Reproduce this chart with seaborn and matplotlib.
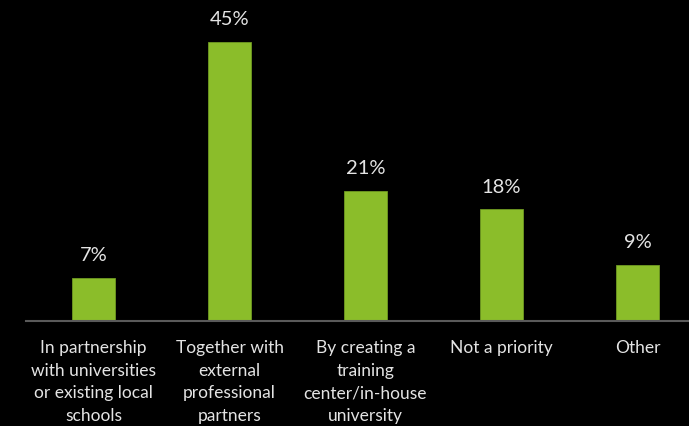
import matplotlib
matplotlib.use("Agg")
import matplotlib.pyplot as plt
import seaborn as sns
import pandas as pd

categories = [
    "In partnership\nwith universities\nor existing local\nschools",
    "Together with\nexternal\nprofessional\npartners",
    "By creating a\ntraining\ncenter/in-house\nuniversity",
    "Not a priority",
    "Other",
]
values = [7, 45, 21, 18, 9]
value_labels = ["7%", "45%", "21%", "18%", "9%"]

df = pd.DataFrame({"category": categories, "value": values})

sns.set_style("dark")
plt.rcParams["font.family"] = ["Lato", "DejaVu Sans"]

W, H = 689, 426
fig = plt.figure(figsize=(W / 100, H / 100), dpi=100, facecolor="black")
# axes spans from the baseline start to beyond the right edge
left_px, base_px, step_px = 25.5, 321, 136
ax = fig.add_axes([left_px / W, 1 - base_px / H, 5 * step_px / W, base_px / H])
ax.set_facecolor("black")

sns.barplot(data=df, x="category", y="value", color="#8bbd2a",
            width=43 / step_px, saturation=1, ax=ax,
            edgecolor="#6f9a22", linewidth=0.6)

ax.set_xlim(-0.5, 4.5)
ax.set_ylim(0, 45 * base_px / 279)

for i, (v, lab) in enumerate(zip(values, value_labels)):
    ax.annotate(lab, (i, v), xytext=(0, 10), textcoords="offset points",
                ha="center", va="bottom", color="#e4e4e4", fontsize=14.5)

ax.set_xticks(range(len(categories)))
ax.set_xticklabels(categories, color="#e4e4e4", fontsize=12.5, linespacing=1.5)
ax.tick_params(axis="x", length=0, pad=14)
ax.set_yticks([])
ax.set_xlabel("")
ax.set_ylabel("")
ax.grid(False)
for s in ["top", "right", "left"]:
    ax.spines[s].set_visible(False)
ax.spines["bottom"].set_visible(True)
ax.spines["bottom"].set_color("#5a5a5a")
ax.spines["bottom"].set_linewidth(1.5)

fig.savefig("out.png", dpi=100, facecolor="black")
